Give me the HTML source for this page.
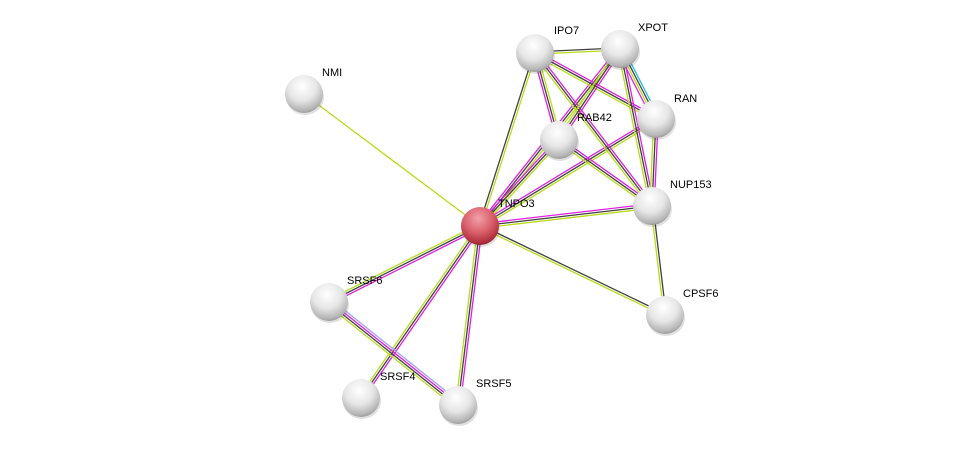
<!DOCTYPE html>
<html><head><meta charset="utf-8"><style>
html,body{margin:0;padding:0;background:#fff;}
svg{display:block;}
text{font-family:"Liberation Sans",sans-serif;font-size:11px;fill:#000;}
</style></head><body>
<svg id="s" width="976" height="450" xmlns="http://www.w3.org/2000/svg">
<defs>
<radialGradient id="g" cx="0.45" cy="0.3" r="0.75">
<stop offset="0" stop-color="#ffffff"/><stop offset="0.5" stop-color="#e6e6e6"/><stop offset="0.85" stop-color="#b4b4b4"/><stop offset="1" stop-color="#8a8a8a"/>
</radialGradient>
<radialGradient id="r" cx="0.45" cy="0.3" r="0.75">
<stop offset="0" stop-color="#f2a0a8"/><stop offset="0.5" stop-color="#d9606c"/><stop offset="0.85" stop-color="#b0303c"/><stop offset="1" stop-color="#7a1a22"/>
</radialGradient>
</defs>
<g id="edges"></g>
<g id="nodes"></g>
</svg>
<script>
var N={NMI:[304,94],TNPO3:[480,226],IPO7:[535,53],XPOT:[620,49],RAN:[656,119],RAB42:[559,140],NUP153:[652,206],CPSF6:[665,315],SRSF6:[329,302],SRSF4:[361,398],SRSF5:[458,405]};
var M="#e020e0",K="#404040",Y="#b8dc1c",C="#20c0e0",B="#a0a0ff";
var E=[["NMI","TNPO3",[Y]],["TNPO3","IPO7",[K,Y]],["TNPO3","XPOT",[M,K,Y]],["TNPO3","RAB42",[M,K,Y]],["TNPO3","RAN",[M,K,Y]],["TNPO3","NUP153",[M,K,Y]],["TNPO3","CPSF6",[K,Y]],["TNPO3","SRSF6",[M,K,Y]],["TNPO3","SRSF4",[M,K,Y]],["TNPO3","SRSF5",[M,K,Y]],["SRSF6","SRSF5",[B,M,K,Y]],["IPO7","XPOT",[K,Y]],["IPO7","RAB42",[Y,K,M]],["IPO7","RAN",[M,K,Y]],["IPO7","NUP153",[M,K,Y]],["XPOT","RAB42",[M,K,Y]],["XPOT","RAN",[C,K,Y,M]],["XPOT","NUP153",[M,K,Y]],["RAB42","NUP153",[M,K,Y]],["RAN","NUP153",[M,K,Y]],["NUP153","CPSF6",[K,Y]]];
var ns="http://www.w3.org/2000/svg",eg=document.getElementById("edges"),ng=document.getElementById("nodes");
E.forEach(function(e){var a=N[e[0]],b=N[e[1]],dx=b[0]-a[0],dy=b[1]-a[1],L=Math.hypot(dx,dy),px=-dy/L,py=dx/L,n=e[2].length;
e[2].forEach(function(c,i){var o=(i-(n-1)/2)*2.2;var l=document.createElementNS(ns,"line");
l.setAttribute("x1",a[0]+px*o);l.setAttribute("y1",a[1]+py*o);l.setAttribute("x2",b[0]+px*o);l.setAttribute("y2",b[1]+py*o);
l.setAttribute("stroke",c);l.setAttribute("stroke-width","1.3");eg.appendChild(l);});});
var lab={NMI:[322,76],IPO7:[554,34],XPOT:[638,31],RAN:[674,102],RAB42:[577,121],TNPO3:[498,207],NUP153:[670,188],CPSF6:[683,297],SRSF6:[347,284],SRSF4:[380,380],SRSF5:[476,387]};
for(var k in N){var p=N[k];
var sh=document.createElementNS(ns,"ellipse");sh.setAttribute("cx",p[0]+1);sh.setAttribute("cy",p[1]+3);sh.setAttribute("rx",19);sh.setAttribute("ry",18);sh.setAttribute("fill","rgba(0,0,0,0.12)");ng.appendChild(sh);
var c=document.createElementNS(ns,"circle");c.setAttribute("cx",p[0]);c.setAttribute("cy",p[1]);c.setAttribute("r",19);c.setAttribute("fill",k=="TNPO3"?"url(#r)":"url(#g)");ng.appendChild(c);
var t=document.createElementNS(ns,"text");t.setAttribute("x",lab[k][0]);t.setAttribute("y",lab[k][1]);t.textContent=k;ng.appendChild(t);}
</script>
</body></html>
